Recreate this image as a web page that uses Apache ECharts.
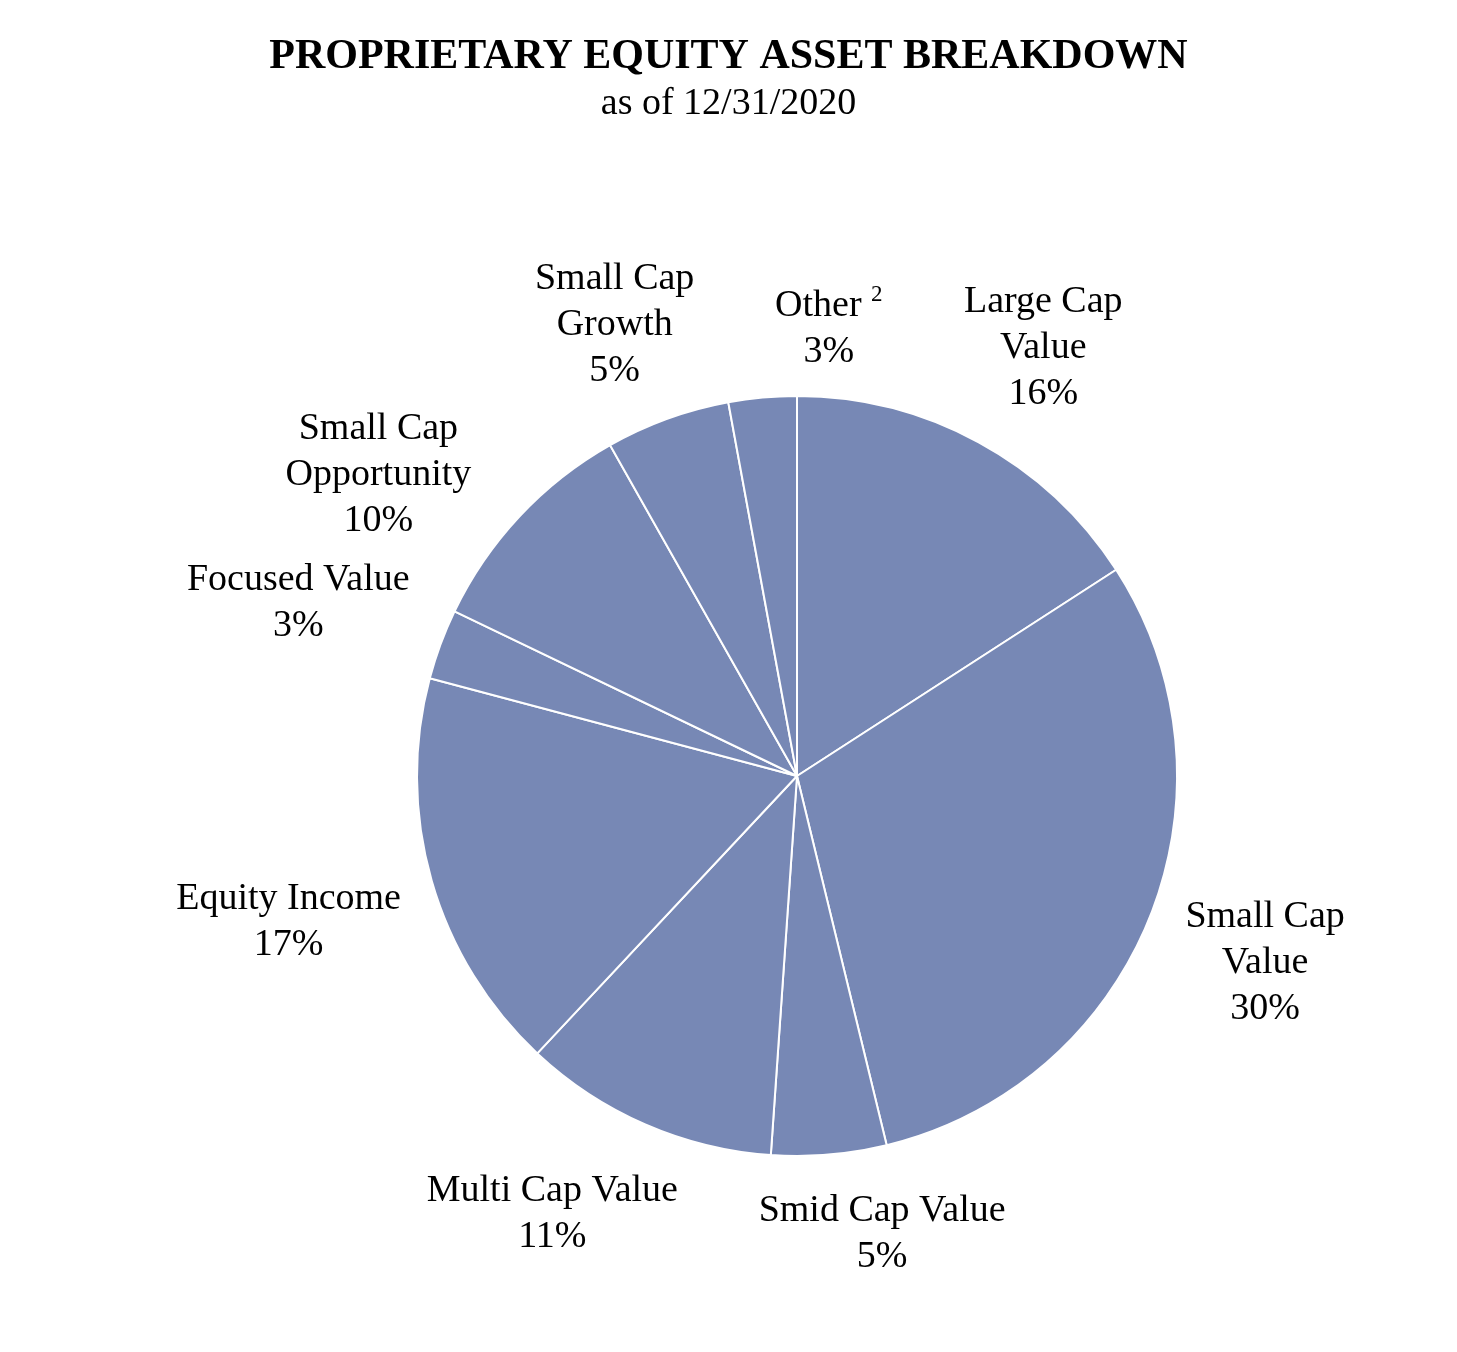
<!DOCTYPE html>
<html>
<head>
<meta charset="utf-8">
<script src="https://cdn.jsdelivr.net/npm/echarts@6/dist/echarts.min.js"></script>
<style>
html,body{margin:0;padding:0;background:#fff;}
#chart{width:1457px;height:1352px;}
</style>
</head>
<body>
<div id="chart"></div>
<script>
const categories = ['Large Cap Value','Small Cap Value','Smid Cap Value','Multi Cap Value','Equity Income','Focused Value','Small Cap Opportunity','Small Cap Growth','Other'];
const labelNames = ['Large Cap\nValue','Small Cap\nValue','Smid Cap Value','Multi Cap Value','Equity Income','Focused Value','Small Cap\nOpportunity','Small Cap\nGrowth','Other {sup|2}'];
const values = [15.9, 30.4, 4.9, 10.9, 17.2, 3.0, 9.7, 5.3, 2.9];

const CX = 797, CY = 776, R = 380, GAP = 32;
const FONT_SIZE = 38, LINE_H = 46;
const total = values.reduce((a, b) => a + b, 0);
const mids = [];
let acc = 0;
values.forEach(v => { mids.push((acc + v / 2) / total * 2 * Math.PI); acc += v; });

// measure label boxes
const mctx = document.createElement('canvas').getContext('2d');
mctx.font = FONT_SIZE + 'px "Liberation Serif"';
const sizes = labelNames.map((n, i) => {
  const lines = (n.replace('{sup|2}', '\u00b2') + '\n' + Math.round(values[i]) + '%').split('\n');
  return { w: Math.max(...lines.map(l => mctx.measureText(l).width)), h: lines.length * LINE_H };
});

function placeAt(a, s) {
  const dx = Math.sin(a), dy = -Math.cos(a);
  const d = R + GAP + Math.abs(dx) * s.w / 2 + Math.abs(dy) * s.h * 0.35;
  return { x: CX + dx * d, y: CY + dy * d };
}

// relaxation between neighbouring labels (circular order) so they keep clear of each other
const angles = mids.slice();
const MX = 80, MY = 12, STEP = 0.003;
const n = angles.length;
for (let it = 0; it < 800; it++) {
  const pos = angles.map((a, i) => placeAt(a, sizes[i]));
  let moved = false;
  for (let i = 0; i < n; i++) {
    const j = (i + 1) % n;
    const ox = Math.abs(pos[i].x - pos[j].x) < (sizes[i].w + sizes[j].w) / 2 + MX;
    const oy = Math.abs(pos[i].y - pos[j].y) < (sizes[i].h + sizes[j].h) / 2 + MY;
    if (ox && oy) {
      angles[i] -= STEP; angles[j] += STEP; moved = true;
    }
  }
  if (!moved) break;
}
const labelPos = angles.map((a, i) => placeAt(a, sizes[i]));

const chart = echarts.init(document.getElementById('chart'));
chart.setOption({
  backgroundColor: '#ffffff',
  animation: false,
  title: {
    text: 'PROPRIETARY EQUITY ASSET BREAKDOWN',
    subtext: 'as of 12/31/2020',
    left: 'center',
    top: 31,
    itemGap: 7,
    textStyle: { fontFamily: 'Liberation Serif', fontWeight: 'bold', fontSize: 42, color: '#000' },
    subtextStyle: { fontFamily: 'Liberation Serif', fontSize: 38, color: '#000' }
  },
  series: [{
    type: 'pie',
    center: [CX, CY],
    radius: R,
    startAngle: 90,
    clockwise: true,
    avoidLabelOverlap: false,
    itemStyle: { color: '#7788b5', borderColor: '#ffffff', borderWidth: 2 },
    emphasis: { disabled: true },
    labelLine: { show: false },
    label: {
      show: true,
      position: 'outside',
      fontFamily: 'Liberation Serif',
      fontSize: FONT_SIZE,
      lineHeight: LINE_H,
      color: '#000',
      align: 'center',
      formatter: p => labelNames[p.dataIndex] + '\n' + Math.round(p.value) + '%',
      rich: {
        sup: { fontFamily: 'Liberation Serif', fontSize: 23, verticalAlign: 'top', padding: [0, 0, 16, 0], color: '#000', lineHeight: LINE_H }
      }
    },
    labelLayout: function (params) {
      const p = labelPos[params.dataIndex];
      return { x: p.x, y: p.y, align: 'center', verticalAlign: 'middle' };
    },
    data: categories.map((c, i) => ({ name: c, value: values[i] }))
  }]
});
</script>
</body>
</html>
